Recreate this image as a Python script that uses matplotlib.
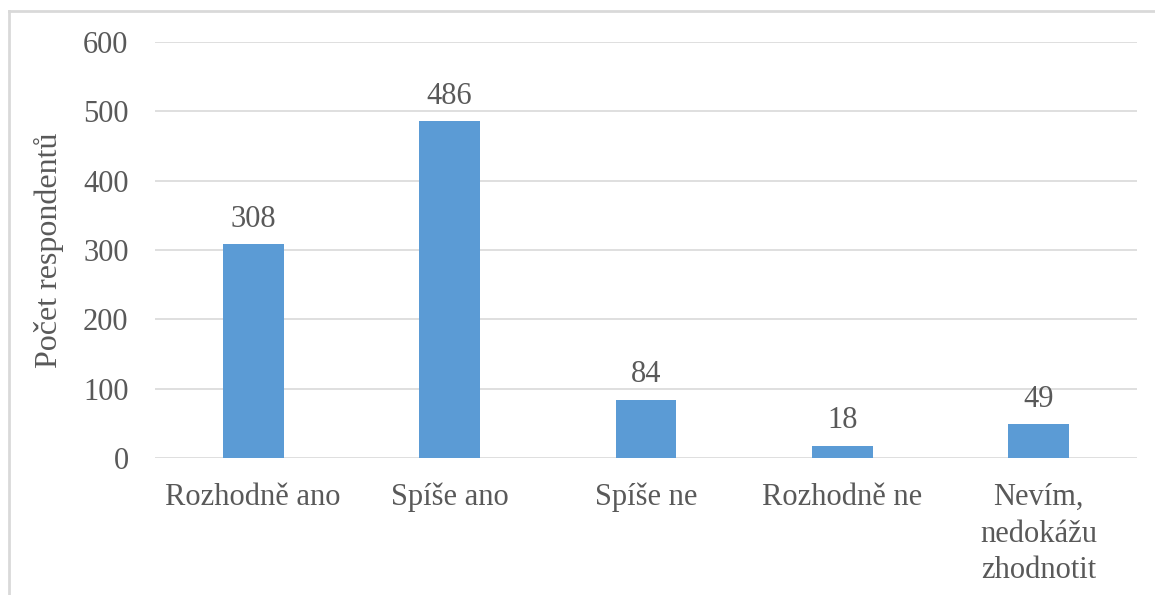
import matplotlib.pyplot as plt
from matplotlib.lines import Line2D

# Odpovědi a počty respondentů
categories = ['Rozhodně ano', 'Spíše ano', 'Spíše ne', 'Rozhodně ne',
              'Nevím,\nnedokážu\nzhodnotit']
counts = [308, 486, 84, 18, 49]

plt.rcParams['font.family'] = ['Liberation Serif', 'DejaVu Serif']
text_color = '#595959'

fig = plt.figure(figsize=(11.55, 5.95), dpi=100)
ax = fig.add_axes([155 / 1155, 1 - 458 / 595, (1137 - 155) / 1155, (458 - 42) / 595])

x = range(len(categories))
bars = ax.bar(x, counts, width=0.31, color='#5B9BD5', zorder=3)

for b, v in zip(bars, counts):
    ax.text(b.get_x() + b.get_width() / 2, v + 15, str(v), ha='center', va='bottom',
            fontsize=22, color=text_color)

ax.set_ylim(0, 600)
ax.set_xlim(-0.5, len(categories) - 0.5)
ax.set_yticks(range(0, 601, 100))
ax.set_xticks(list(x))
ax.set_xticklabels(categories, fontsize=22, color=text_color, linespacing=1.35)
ax.tick_params(axis='y', labelsize=22, labelcolor=text_color, length=0, pad=19)
ax.tick_params(axis='x', length=0, pad=18)
ax.grid(axis='y', color='#D9D9D9', linewidth=1.2, zorder=0)
for s in ax.spines.values():
    s.set_visible(False)

ax.set_ylabel('Počet respondentů', fontsize=23, color=text_color, labelpad=14)

# okraj grafu
fig.add_artist(Line2D([9 / 1155, 9 / 1155], [0, 1 - 11 / 595], color='#D9D9D9', lw=2,
                      transform=fig.transFigure))
fig.add_artist(Line2D([9 / 1155, 1], [1 - 11 / 595, 1 - 11 / 595], color='#D9D9D9', lw=2,
                      transform=fig.transFigure))

fig.savefig('out.png', dpi=100)
